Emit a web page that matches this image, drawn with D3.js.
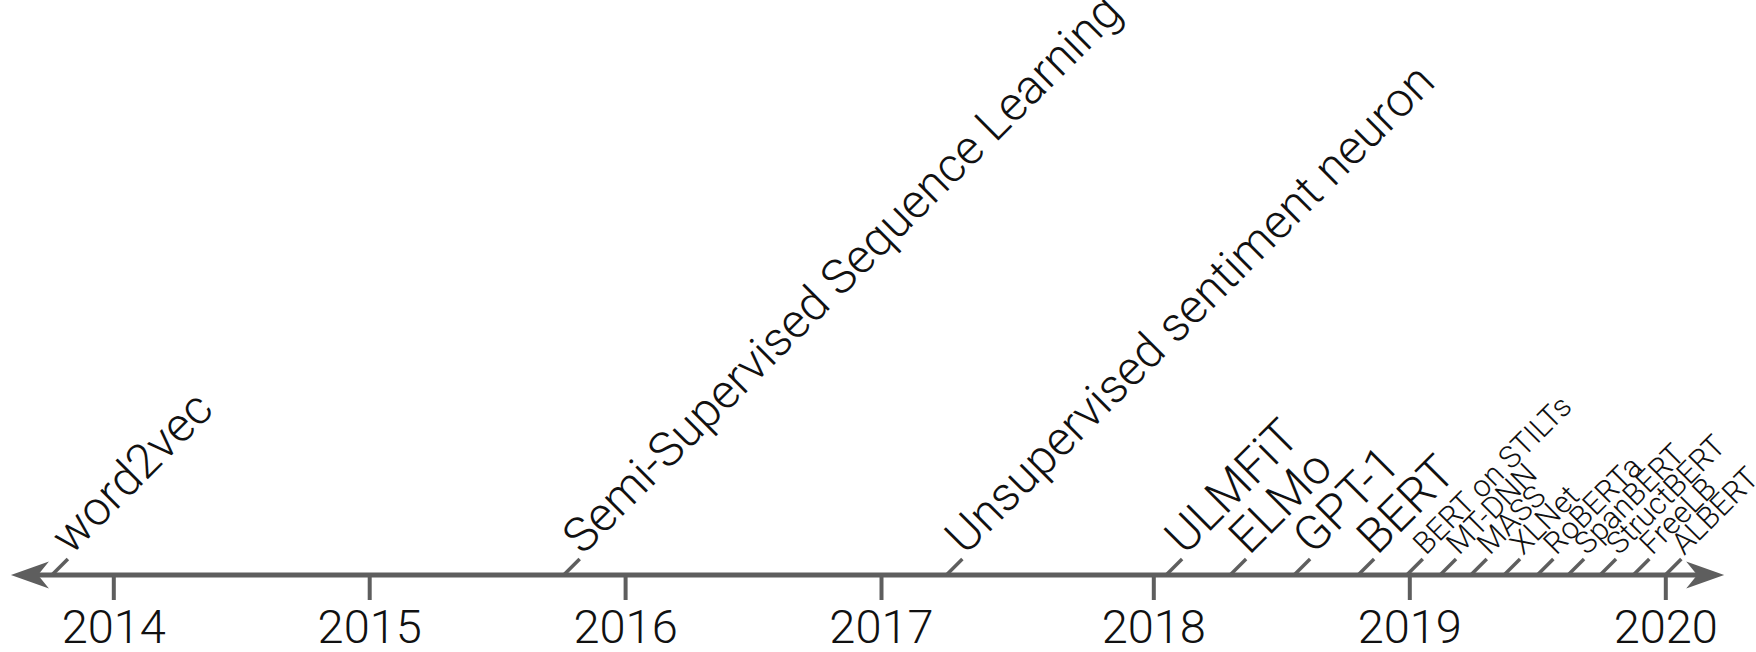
<!DOCTYPE html>
<html>
<head>
<meta charset="utf-8">
<script src="https://cdn.jsdelivr.net/npm/d3@7"></script>
<style>
    body { margin: 0; background: #fff; }
    svg { display: block; font-family: Roboto, "Open Sans", sans-serif; }
</style>
</head>
<body>
<div id="timeline"></div>
<script>
// Years shown under the axis
let years = [2014, 2015, 2016, 2017, 2018, 2019, 2020];

// Models on the timeline (decimal year)
let modelNames = ["word2vec", "Semi-Supervised Sequence Learning", "Unsupervised sentiment neuron",
    "ULMFiT", "ELMo", "GPT-1", "BERT",
    "BERT on STILTs", "MT-DNN", "MASS", "XLNet", "RoBERTa", "SpanBERT", "StructBERT", "FreeLB", "ALBERT"];
let modelDates = [2013.76, 2015.76, 2017.24,
    2018.05, 2018.30, 2018.55, 2018.80,
    2018.99, 2019.12, 2019.24, 2019.37, 2019.50, 2019.62, 2019.745, 2019.875, 2020.0];
// true = big label, false = small label
let modelBig = [true, true, true, true, true, true, true,
    false, false, false, false, false, false, false, false, false];

// Where the arrow line starts / ends, in years
let axisExtent = [2013.6, 2020.23];

let width = 1756, height = 652;
let axisY = 575;
let grey = "#5e5e5e";

let svg = d3.select("#timeline").append("svg")
    .attr("width", width)
    .attr("height", height);

// The picture has a slightly wider gap between 2017 and 2018
let xScale = d3.scaleLinear()
    .domain([2014, 2017, 2018, 2020])
    .range([113.3, 881, 1153.3, 1665.3]);

// Main line
let x0 = xScale(axisExtent[0]);
let x1 = xScale(axisExtent[1]);
svg.append("line")
    .attr("x1", x0 + 25).attr("x2", x1 - 25)
    .attr("y1", axisY).attr("y2", axisY)
    .attr("stroke", grey)
    .attr("stroke-width", 5);

// Arrow heads at both ends
let headLen = 38, headHalf = 13.5, notch = 27;
function arrowPath(tipX, dir) {
    return "M" + tipX + "," + axisY +
        "L" + (tipX + dir * headLen) + "," + (axisY - headHalf) +
        "L" + (tipX + dir * notch) + "," + axisY +
        "L" + (tipX + dir * headLen) + "," + (axisY + headHalf) + "Z";
}
svg.append("path").attr("d", arrowPath(x0, 1)).attr("fill", grey);
svg.append("path").attr("d", arrowPath(x1, -1)).attr("fill", grey);

// Year ticks and labels
let bottomAxis = d3.axisBottom(xScale)
    .tickValues(years)
    .tickFormat(d3.format("d"))
    .tickSize(25)
    .tickPadding(10);

let axisG = svg.append("g")
    .attr("transform", "translate(0," + axisY + ")")
    .call(bottomAxis);
axisG.select(".domain").remove();
axisG.selectAll(".tick line")
    .attr("stroke", grey)
    .attr("stroke-width", 4);
axisG.selectAll(".tick text")
    .attr("fill", "#111")
    .style("font-family", "Roboto, sans-serif")
    .style("font-weight", 300)
    .style("font-size", "47px");

// Model markers: short 45 degree lead + rotated label
let models = modelNames.map((name, i) => ({name: name, date: modelDates[i], big: modelBig[i]}));
let lead = 16;

let marks = svg.append("g").selectAll("g")
    .data(models)
    .join("g")
    .attr("transform", d => "translate(" + xScale(d.date) + "," + axisY + ")");

marks.append("line")
    .attr("x1", 0).attr("y1", 0)
    .attr("x2", lead).attr("y2", -lead)
    .attr("stroke", grey)
    .attr("stroke-width", 3.5);

marks.append("text")
    .attr("transform", "translate(" + (lead + 3) + "," + (-lead - 3) + ") rotate(-45)")
    .attr("fill", "#111")
    .style("font-weight", 300)
    .style("font-size", d => d.big ? "48px" : "30.5px")
    .text(d => d.name);
</script>
</body>
</html>
